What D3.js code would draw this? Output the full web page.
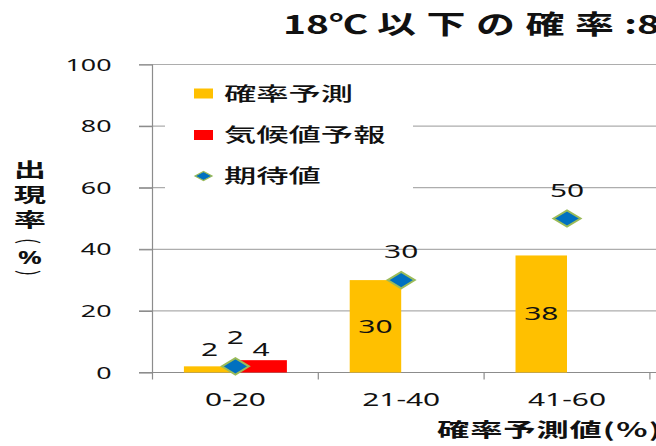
<!DOCTYPE html>
<html><head><meta charset="utf-8">
<script src="https://cdn.jsdelivr.net/npm/d3@7"></script>
<style>
html,body{margin:0;padding:0;background:#fff;overflow:hidden;}
svg{display:block;overflow:hidden;}
</style></head>
<body>
<svg id="chart" width="656" height="446"></svg>
<script>
// ---- data ----
const categories = ["0-20", "21-40", "41-60", "61-80", "81-100"];
const seriesNames = ["確率予測", "気候値予報", "期待値"];
const probForecast = [2, 30, 38];      // 確率予測 (visible categories only)
const climForecast = [4];              // 気候値予報
const expectedValue = [2, 30, 50];     // 期待値
const yTicks = [0, 20, 40, 60, 80, 100];
const titleText = ["18℃", "以下の確率", ":8"];
const yTitleChars = ["出", "現", "率", "(", "%", ")"];
const xTitleText = "確率予測値(％)";

// ---- styles ----
const SX = 1.7;   // horizontal stretch of the original picture
const LATIN = "'Noto Sans', 'DejaVu Sans', sans-serif";
const CJK = "'Noto Sans CJK JP', 'Noto Sans', sans-serif";
const colors = {prob: "#FFC000", clim: "#FF0000", exp: "#0070C0", expStroke: "#9BBB59", grid: "#ADADAD", axis: "#8C8C8C"};

const svg = d3.select("#chart");
const W = 656, H = 446;

const y = d3.scaleLinear().domain([0, 100]).range([372.5, 64.5]);
const x = d3.scaleBand().domain(categories).range([152.5, 981.5]).paddingInner(0).paddingOuter(0);
const xs = d3.scaleBand().domain([0, 1]).range([0, x.bandwidth()]).paddingInner(0).paddingOuter(0.61);
const cx = c => x(c) + x.bandwidth() / 2;

function stext(g, px, py, str, size, family, weight, anchor, sx, extra) {
  return g.append("text")
    .attr("transform", `translate(${px},${py}) scale(${sx || SX},1)` + (extra || ""))
    .attr("text-anchor", anchor || "start")
    .style("font-family", family)
    .style("font-size", size + "px")
    .style("font-weight", weight || "normal")
    .attr("fill", "#111")
    .text(str);
}

// ---- gridlines ----
svg.append("g").selectAll("line").data(yTicks.filter(v => v > 0)).join("line")
  .attr("x1", 139).attr("x2", W)
  .attr("y1", d => y(d)).attr("y2", d => y(d))
  .attr("stroke", colors.grid).attr("stroke-width", 1.2);

// ---- y axis ----
const yAxis = svg.append("g").attr("transform", "translate(152.5,0)")
  .call(d3.axisLeft(y).tickValues(yTicks).tickSize(13.5).tickSizeOuter(0));
yAxis.select(".domain").remove();
yAxis.selectAll(".tick line").attr("stroke", colors.axis).attr("stroke-width", 1.2);
yAxis.selectAll(".tick text")
  .attr("x", -41 / SX).attr("dy", "0.36em")
  .attr("transform", `scale(${SX},1)`)
  .style("font-family", LATIN).style("font-size", "15.8px").attr("fill", "#111");
svg.append("line").attr("x1", 152.5).attr("x2", 152.5).attr("y1", y(100)).attr("y2", 379.5)
  .attr("stroke", colors.axis).attr("stroke-width", 1.2);

// ---- x axis ----
const xAxis = svg.append("g").attr("transform", `translate(0,${y(0)})`)
  .call(d3.axisBottom(x).tickSize(0).tickSizeOuter(0));
xAxis.select(".domain").attr("stroke", colors.axis).attr("stroke-width", 1.2)
  .attr("d", `M139,0H${W}`);
xAxis.selectAll(".tick text")
  .attr("y", 34).attr("dy", 0)
  .attr("transform", `scale(${SX},1)`)
  .style("font-family", LATIN).style("font-size", "17.6px").attr("fill", "#111");
svg.append("g").selectAll("line").data(categories).join("line")
  .attr("x1", d => x(d) + x.bandwidth()).attr("x2", d => x(d) + x.bandwidth())
  .attr("y1", y(0)).attr("y2", y(0) + 7)
  .attr("stroke", colors.axis).attr("stroke-width", 1.2);

// ---- bars ----
const probData = probForecast.map((v, i) => ({c: categories[i], v}));
const climData = climForecast.map((v, i) => ({c: categories[i], v}));
const expData = expectedValue.map((v, i) => ({c: categories[i], v}));

svg.append("g").selectAll("rect").data(probData).join("rect")
  .attr("x", d => x(d.c) + xs(0)).attr("width", xs.bandwidth())
  .attr("y", d => y(d.v)).attr("height", d => y(0) - y(d.v))
  .attr("fill", colors.prob);
svg.append("g").selectAll("rect").data(climData).join("rect")
  .attr("x", d => x(d.c) + xs(1)).attr("width", xs.bandwidth())
  .attr("y", d => y(d.v)).attr("height", d => y(0) - y(d.v))
  .attr("fill", colors.clim);

// ---- expected value markers ----
const diamond = (hw, hh) => `M${-hw},0L0,${-hh}L${hw},0L0,${hh}Z`;
svg.append("g").selectAll("path").data(expData).join("path")
  .attr("transform", d => `translate(${cx(d.c)},${y(d.v)})`)
  .attr("d", diamond(13.5, 8.2))
  .attr("fill", colors.exp).attr("stroke", colors.expStroke).attr("stroke-width", 2);

// ---- data labels ----
const labels = svg.append("g");
const barLabelY = d => (y(0) - y(d.v) < 25) ? Math.min(y(d.v), y(4)) - 4 : (y(d.v) + y(0)) / 2 + 6.5;
probData.forEach(d => stext(labels, x(d.c) + xs(0) + xs.bandwidth() / 2, barLabelY(d), d.v, 17.6, LATIN, "normal", "middle"));
climData.forEach(d => stext(labels, x(d.c) + xs(1) + xs.bandwidth() / 2, barLabelY(d), d.v, 17.6, LATIN, "normal", "middle"));
expData.forEach(d => stext(labels, cx(d.c), y(d.v) - 22, d.v, 17.6, LATIN, "normal", "middle"));

// ---- legend ----
const lg = svg.append("g");
lg.append("rect").attr("x", 165).attr("y", 69).attr("width", 248).attr("height", 131).attr("fill", "#fff");
const legendRows = [93.5, 135, 176];
lg.append("rect").attr("x", 194).attr("y", legendRows[0] - 5).attr("width", 19).attr("height", 10).attr("fill", colors.prob);
lg.append("rect").attr("x", 194).attr("y", legendRows[1] - 5).attr("width", 19).attr("height", 10).attr("fill", colors.clim);
lg.append("path").attr("transform", `translate(203.5,${legendRows[2]})`).attr("d", diamond(8.5, 4.5))
  .attr("fill", colors.exp).attr("stroke", colors.expStroke).attr("stroke-width", 1.2);
seriesNames.forEach((s, i) => stext(lg, 224, legendRows[i] + 7, s, 19, CJK, "500", "start"));

// ---- titles ----
const tt = svg.append("text")
  .attr("transform", "translate(283,34) scale(1.5,1)")
  .style("font-family", CJK).style("font-size", "26px").style("font-weight", "bold").attr("fill", "#111");
tt.append("tspan").text(titleText[0]);
tt.append("tspan").attr("dx", 6).style("letter-spacing", "7px").text(titleText[1]);
tt.append("tspan").text(titleText[2]);

// vertical y-axis title: characters stacked, parentheses turned sideways
const yt = svg.append("g");
stext(yt, 30, 177, yTitleChars[0], 19, CJK, "bold", "middle");
stext(yt, 30, 202, yTitleChars[1], 19, CJK, "bold", "middle");
stext(yt, 30, 227, yTitleChars[2], 19, CJK, "bold", "middle");
stext(yt, 31, 241, yTitleChars[3], 18, CJK, "normal", "middle", 1.4, " rotate(90)").attr("dominant-baseline", "central");
stext(yt, 30, 264, yTitleChars[4], 17, LATIN, "bold", "middle", 1.55);
stext(yt, 31, 273, yTitleChars[5], 18, CJK, "normal", "middle", 1.4, " rotate(90)").attr("dominant-baseline", "central");

stext(svg, 437, 437, xTitleText, 19, CJK, "bold", "start").style("letter-spacing", "0.5px");
</script>
</body></html>
